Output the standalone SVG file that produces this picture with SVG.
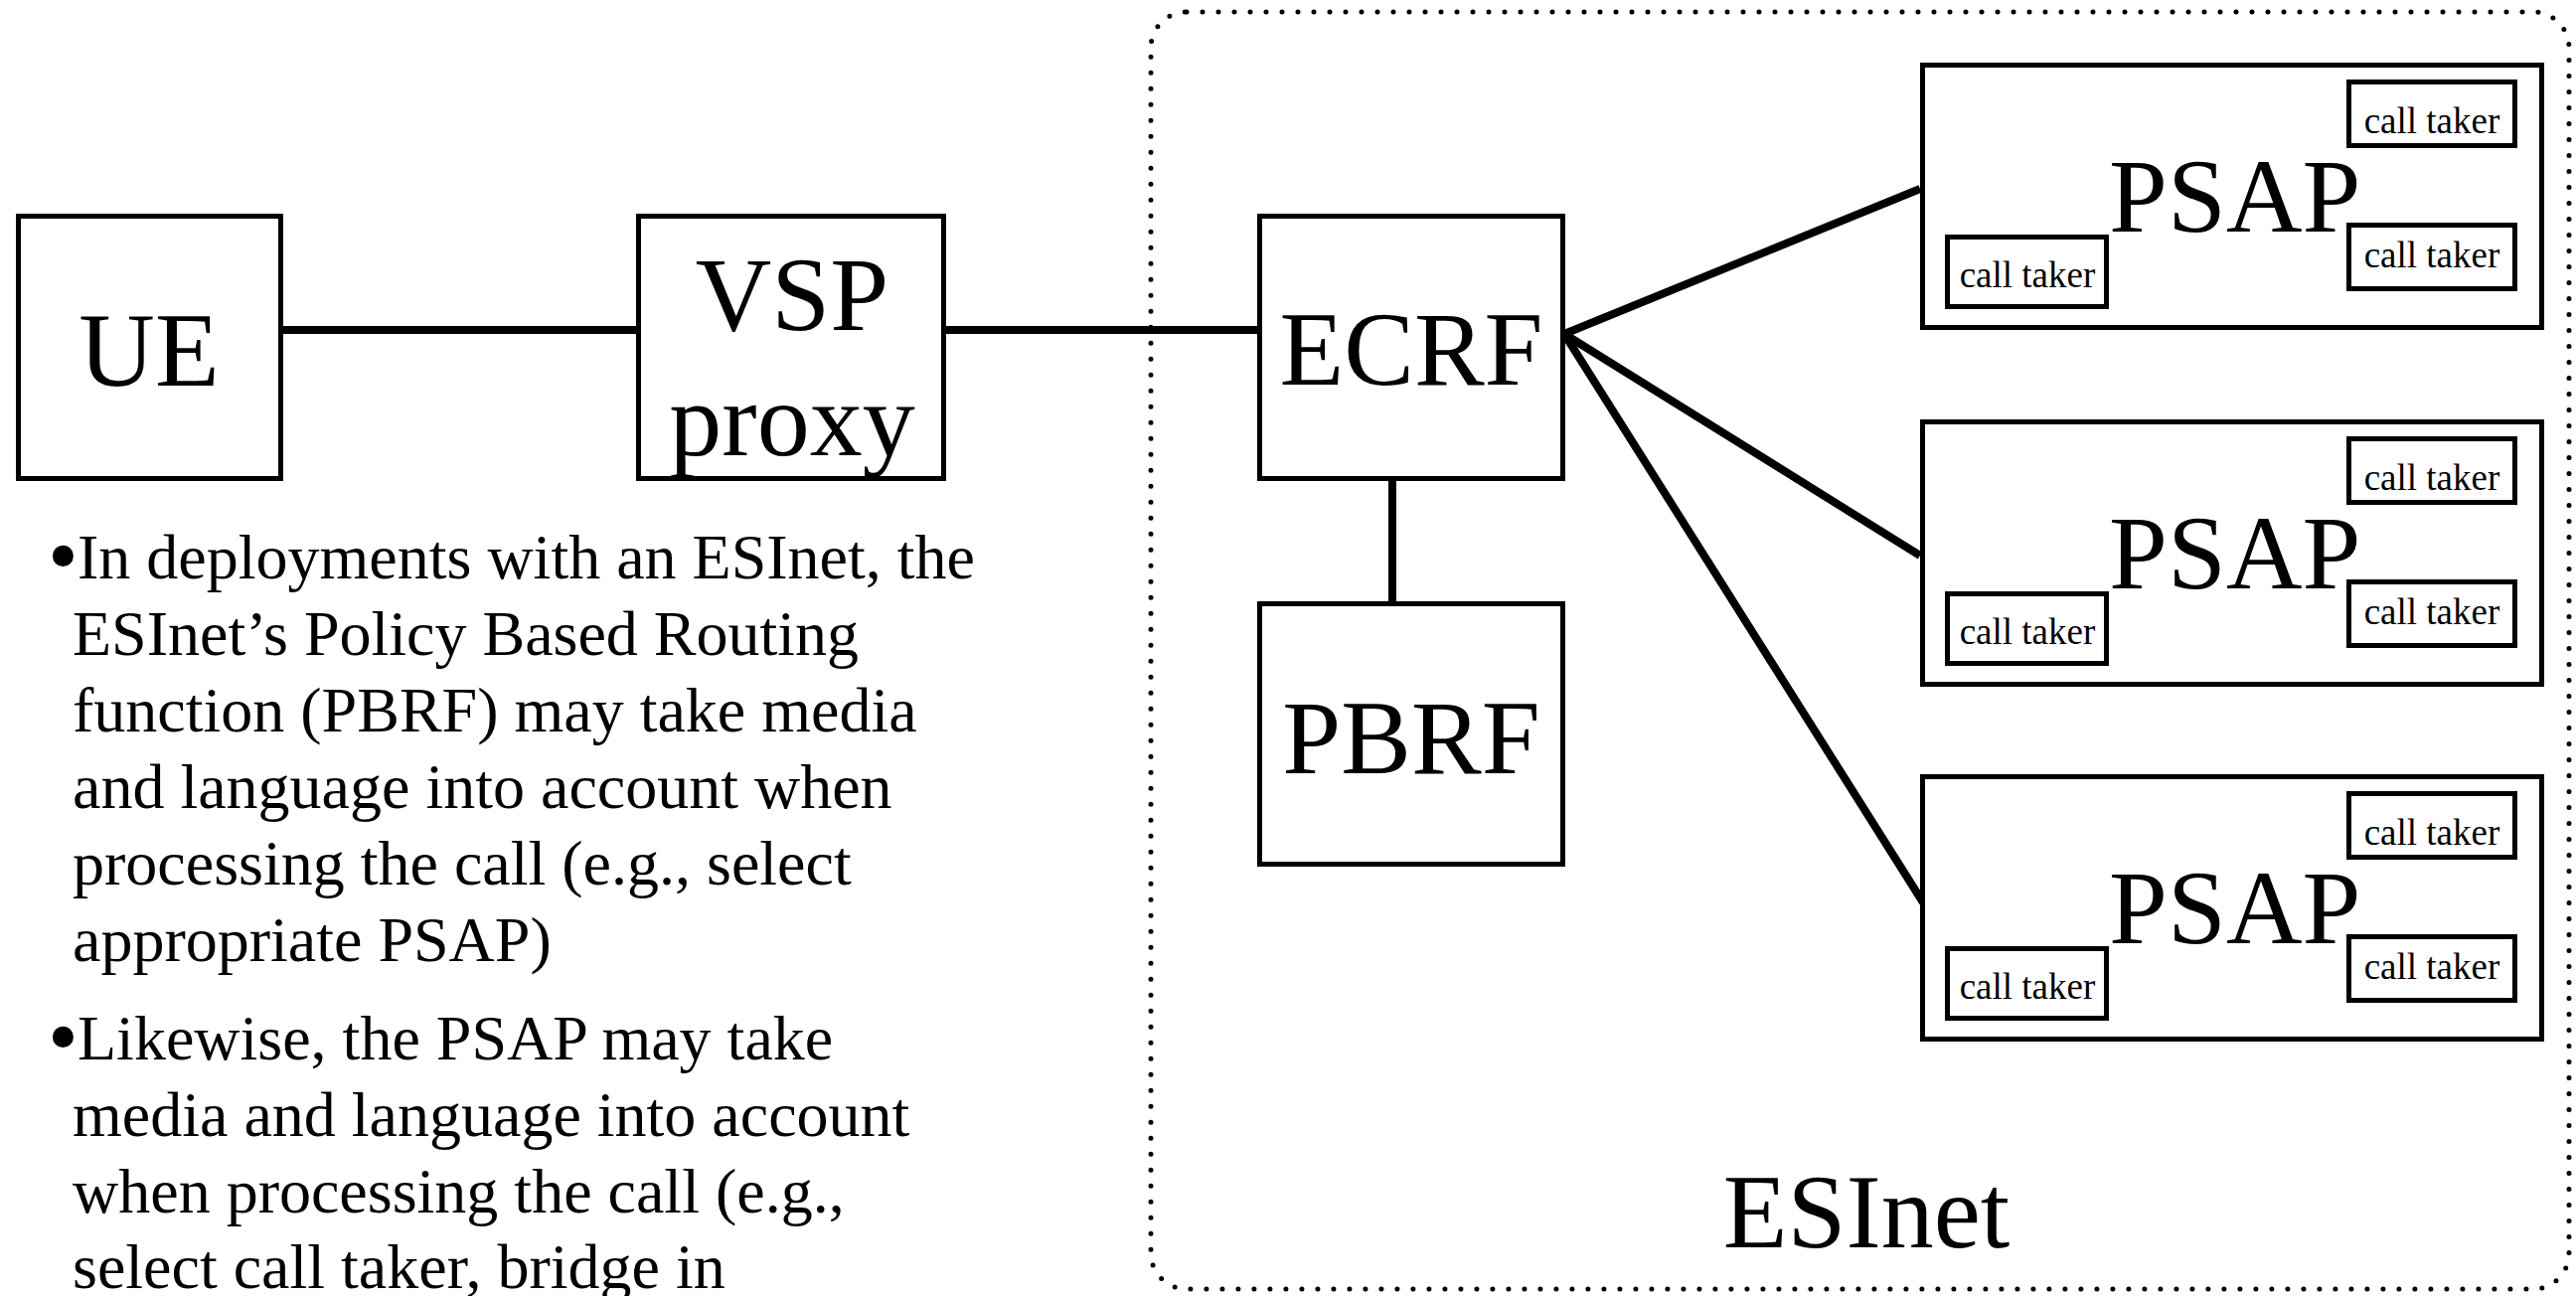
<svg xmlns="http://www.w3.org/2000/svg" width="2592" height="1304" viewBox="0 0 2592 1304">
<style>
.box{fill:#fff;stroke:#000;stroke-width:5}
.ct{fill:#fff;stroke:#000;stroke-width:5}
.big{font-family:"Liberation Serif","Times New Roman",serif;font-size:106px;fill:#000;text-anchor:middle}
.ps{font-family:"Liberation Serif","Times New Roman",serif;font-size:106px;fill:#000;text-anchor:start}
.sm{font-family:"Liberation Serif","Times New Roman",serif;font-size:37px;fill:#000;text-anchor:middle}
.body{font-family:"Liberation Serif","Times New Roman",serif;font-size:64px;fill:#000}
.bul{font-size:88px}
.wire{stroke:#000;stroke-width:8;fill:none}
.dots{fill:none;stroke:#000;stroke-width:5;stroke-linecap:round;stroke-dasharray:0 16}
</style>
<rect width="2592" height="1304" fill="#fff"/>
<g id="esinet">
<rect class="dots" x="1158" y="12" width="1427" height="1285" rx="36" ry="36"/>
<text class="big" x="1878" y="1255">ESInet</text>
</g>
<g id="connectors">
<line class="wire" x1="285" y1="332" x2="640" y2="332"/>
<line class="wire" x1="952" y1="332" x2="1265" y2="332"/>
<line class="wire" x1="1401" y1="484" x2="1401" y2="605"/>
<line class="wire" x1="1574" y1="336" x2="1932" y2="190"/>
<line class="wire" x1="1574" y1="336" x2="1932" y2="559"/>
<line class="wire" x1="1574" y1="336" x2="1935" y2="908"/>
</g>
<g id="ue">
<rect class="box" x="18.5" y="217.5" width="264" height="264"/>
<text class="big" x="150" y="388">UE</text>
</g>
<g id="vsp">
<rect class="box" x="642.5" y="217.5" width="307" height="264"/>
<text class="big" x="797" y="332">VSP</text>
<text class="big" x="797" y="458">proxy</text>
</g>
<g id="ecrf">
<rect class="box" x="1267.5" y="217.5" width="305" height="264"/>
<text class="big" x="1420" y="387">ECRF</text>
</g>
<g id="pbrf">
<rect class="box" x="1267.5" y="607.5" width="305" height="262"/>
<text class="big" x="1420" y="778">PBRF</text>
</g>
<g id="psap1">
<rect class="box" x="1934.5" y="65.5" width="623" height="264"/>
<text class="ps" x="2122" y="233">PSAP</text>
<rect class="ct" x="2363.5" y="82.5" width="167" height="64"/>
<text class="sm" x="2447" y="134">call taker</text>
<rect class="ct" x="2363.5" y="226.5" width="167" height="64"/>
<text class="sm" x="2447" y="269">call taker</text>
<rect class="ct" x="1959.5" y="238.5" width="160" height="70"/>
<text class="sm" x="2040" y="289">call taker</text>
</g>
<g id="psap2">
<rect class="box" x="1934.5" y="424.5" width="623" height="264"/>
<text class="ps" x="2122" y="592">PSAP</text>
<rect class="ct" x="2363.5" y="441.5" width="167" height="64"/>
<text class="sm" x="2447" y="493">call taker</text>
<rect class="ct" x="2363.5" y="585.5" width="167" height="64"/>
<text class="sm" x="2447" y="628">call taker</text>
<rect class="ct" x="1959.5" y="597.5" width="160" height="70"/>
<text class="sm" x="2040" y="648">call taker</text>
</g>
<g id="psap3">
<rect class="box" x="1934.5" y="781.5" width="623" height="264"/>
<text class="ps" x="2122" y="949">PSAP</text>
<rect class="ct" x="2363.5" y="798.5" width="167" height="64"/>
<text class="sm" x="2447" y="850">call taker</text>
<rect class="ct" x="2363.5" y="942.5" width="167" height="64"/>
<text class="sm" x="2447" y="985">call taker</text>
<rect class="ct" x="1959.5" y="954.5" width="160" height="70"/>
<text class="sm" x="2040" y="1005">call taker</text>
</g>
<g id="notes" class="body">
<text class="bul" x="48" y="589">•</text>
<text x="78" y="582">In deployments with an ESInet, the</text>
<text x="73" y="659">ESInet’s Policy Based Routing</text>
<text x="73" y="736">function (PBRF) may take media</text>
<text x="73" y="813">and language into account when</text>
<text x="73" y="890">processing the call (e.g., select</text>
<text x="73" y="967">appropriate PSAP)</text>
<text class="bul" x="48" y="1073">•</text>
<text x="78" y="1066">Likewise, the PSAP may take</text>
<text x="73" y="1143">media and language into account</text>
<text x="73" y="1220">when processing the call (e.g.,</text>
<text x="73" y="1296">select call taker, bridge in</text>
</g>
</svg>
